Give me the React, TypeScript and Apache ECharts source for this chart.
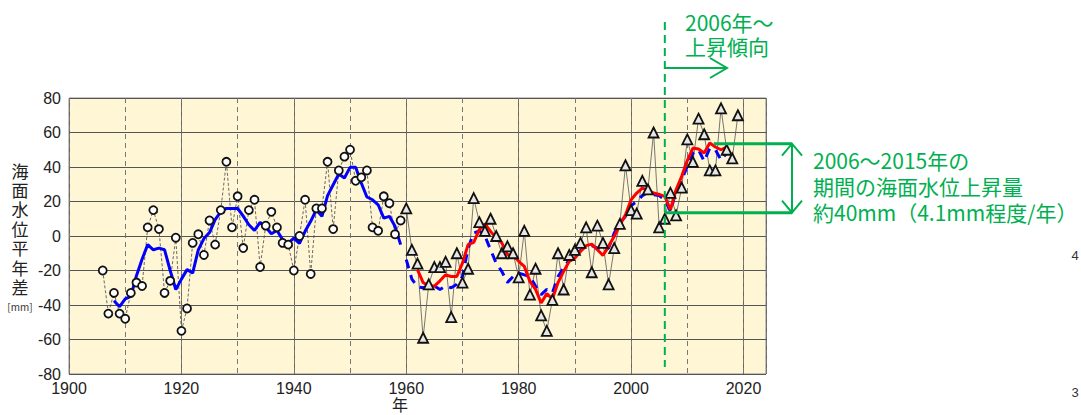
import React, { useEffect, useRef } from "react";
import * as echarts from "echarts";

// ---- data ----
const CIRCLE_START = 1906;
const circleValues = [
  -20, -45, -33, -45, -48, -33, -27, -29, 5, 15, 4, -33, -26, -1, -55, -42, -4, 1, -11, 9,
  -5, 15, 43, 5, 23, -7, 15, 21, -18, 6, 14, 5, -4, -5, -20, 0, 21, -22, 16, 16,
  43, 4, 38, 46, 50, 32, 34, 38, 5, 3, 23, 19, 1, 9,
];
const TRI_START = 1960;
const triangleValues = [
  16, -8, -16, -59, -28, -18, -18, -15, -47, -10, -27, -19, 22, 8, 3, 10, 0, -10, -6, -10,
  -24, 3, -34, -19, -46, -55, -37, -10, -31, -11, -8, -4, 5, -21, 6, -4, -28, -7, 7, 41,
  15, 13, 32, 27, 60, 5, 10, 25, 12, 28, 56, 43, 68, 59, 38, 38, 74, 50, 45, 70,
];
const BLUE_START = 1908;
const blueSolid = [
  -37.5, -41, -36.5, -35, -23, -13.5, -5, -8, -7, -8, -20, -31, -25, -19.5, -21.5, -8, -1.5, 2, 9.5, 14,
  16, 16, 16, 11.5, 6.5, 3.2, 7.9, 5.2, 1.3, 3.2, -2.1, -4.1, -1.2, -4.3, 2.7, 8.5, 15.2, 11.4, 23.4, 29.7,
  35.9, 33.6, 39.8, 39.8, 30.7, 22.6, 21, 18.1, 10.4, 11.4, 5.6, -5,
];
const BLUE_DASH_START = 1960;
const blueDashed = [
  -13.7, -25, -29.5, -30, -29, -29, -31, -29, -30, -28, -23.5, -7, 1.7, 3, 0, -8, -15.7, -20.5, -27, -23.5,
  -21.5, -22.5, -23.5, -29, -34, -31, -33, -23.5, -18.5, -13.7, -11.8, -8.3, -5.6, -5.6, -7, -9, -7, 1.7, 7.5, 11.4,
  17.6, 20, 23.4, 25.3, 24, 23.4, 21, 14.3, 25.7, 32.6, 40.4, 48, 50, 43.3, 51, 50, 44, 48,
];
const RED_START = 1962;
const redValues = [
  -19.5, -27, -29, -29, -26, -22.5, -23.5, -23.5, -15.7, -5, -3.7, 3.7, 7, 2.7, -1.2, -4, -10.8, -11, -14.7, -17.6,
  -26.3, -31, -38.8, -33.4, -36.5, -27, -20.5, -14.7, -12.8, -9, -5.6, -4.7, -8, -11.2, -6, -0.2, 6.5, 12.3, 21, 24.9,
  27.8, 26.6, 24.9, 24.1, 23, 15.2, 26.8, 34.6, 43.7, 51, 50.4, 48.1, 53.9, 51.6, 50, 51.6,
];
const TREND_START = 2006;
const RISE_LOW = 13.5;
const RISE_HIGH = 53.5;
const RISE_HIGH_FROM = 2014.7;
const Y_TITLE = ["海", "面", "水", "位", "平", "年", "差"];

const GREEN = "#00B050";
const JP = "'Noto Sans CJK JP', sans-serif";
const LAT = "'Liberation Sans', Arial, sans-serif";

const toPairs = (start: number, vals: number[]) => vals.map((v, i) => [start + i, v]);

export default function App() {
  const ref = useRef<HTMLDivElement>(null);
  useEffect(() => {
    const chart = echarts.init(ref.current!, undefined, { renderer: "svg" });
    const option: any = {
      animation: false,
      grid: {
        left: 69,
        top: 98,
        width: 697,
        height: 276,
        show: true,
        backgroundColor: "#FFF6D6",
        borderColor: "#8a8a8a",
        borderWidth: 1,
      },
      xAxis: [
        {
          type: "value",
          min: 1900,
          max: 2024,
          interval: 20,
          axisLine: { show: false },
          axisTick: { show: false },
          axisLabel: {
            fontSize: 16,
            fontFamily: LAT,
            color: "#222",
            margin: 6,
            showMaxLabel: false,
            formatter: (v: number) => (v % 20 === 0 ? String(v) : ""),
          },
          splitLine: { show: true, lineStyle: { color: "#666", width: 1 } },
        },
        {
          type: "value",
          min: 1900,
          max: 2024,
          interval: 10,
          position: "bottom",
          axisLine: { show: false },
          axisTick: { show: false },
          axisLabel: { show: false },
          splitLine: { show: true, lineStyle: { color: "#777", width: 1, type: [5, 4] } },
        },
      ],
      yAxis: {
        type: "value",
        min: -80,
        max: 80,
        interval: 20,
        axisLine: { show: false },
        axisTick: { show: false },
        axisLabel: { fontSize: 16, fontFamily: LAT, color: "#222", margin: 8 },
        splitLine: { show: true, lineStyle: { color: "#555", width: 1 } },
      },
      series: [
        {
          type: "line",
          data: toPairs(CIRCLE_START, circleValues),
          symbol: "none",
          lineStyle: { color: "#444", width: 0.8, type: [3, 2] },
          z: 2,
        },
        {
          type: "line",
          data: toPairs(TRI_START, triangleValues),
          symbol: "none",
          lineStyle: { color: "#555", width: 0.8 },
          z: 2,
        },
        {
          type: "line",
          data: toPairs(BLUE_START, blueSolid),
          symbol: "none",
          lineStyle: { color: "#0000FF", width: 3 },
          z: 3,
        },
        {
          type: "line",
          data: toPairs(BLUE_DASH_START, blueDashed),
          symbol: "none",
          lineStyle: { color: "#0000FF", width: 3, type: [9, 7] },
          z: 3,
        },
        {
          type: "line",
          data: toPairs(RED_START, redValues),
          symbol: "none",
          lineStyle: { color: "#FF0000", width: 3 },
          z: 4,
        },
        {
          type: "scatter",
          data: toPairs(CIRCLE_START, circleValues),
          symbol: "circle",
          symbolSize: 8,
          itemStyle: { color: "#fff", borderColor: "#111", borderWidth: 1.8, opacity: 1 },
          z: 5,
        },
        {
          type: "scatter",
          data: toPairs(TRI_START, triangleValues),
          symbol: "triangle",
          symbolSize: 10,
          itemStyle: { color: "#e6e6e6", borderColor: "#111", borderWidth: 1.8, opacity: 1 },
          z: 5,
        },
      ],
    };
    chart.setOption(option);

    const p = (x: number, y: number) =>
      chart.convertToPixel({ xAxisIndex: 0, yAxisIndex: 0 }, [x, y]) as number[];
    const xT = p(TREND_START, 0)[0];
    const yLow = p(TREND_START, RISE_LOW)[1];
    const yHigh = p(TREND_START, RISE_HIGH)[1];
    const xHigh = p(RISE_HIGH_FROM, 0)[0];
    const xBr = 792;
    const ls = { stroke: GREEN, lineWidth: 2 };

    const titleChars = Y_TITLE.map((ch, i) => ({
      type: "text",
      x: 20,
      y: 170 + i * 19.4,
      style: {
        text: ch,
        fontSize: 17,
        lineHeight: 18,
        fontFamily: JP,
        fill: "#222",
        align: "center",
        verticalAlign: "middle",
      },
    }));

    chart.setOption({
      graphic: [
        ...titleChars,
        {
          type: "text",
          x: 20,
          y: 306,
          style: { text: "[mm]", fontSize: 10, lineHeight: 11, fontFamily: JP, fill: "#333", align: "center", verticalAlign: "middle" },
        },
        {
          type: "text",
          x: 400,
          y: 404,
          style: { text: "年", fontSize: 16, lineHeight: 16, fontFamily: JP, fill: "#222", align: "center", verticalAlign: "middle" },
        },
        {
          type: "text",
          x: 1075,
          y: 255,
          style: { text: "4", fontSize: 13, fontFamily: LAT, fill: "#333", align: "center", verticalAlign: "middle" },
        },
        {
          type: "text",
          x: 1075,
          y: 392,
          style: { text: "3", fontSize: 13, fontFamily: LAT, fill: "#333", align: "center", verticalAlign: "middle" },
        },
        // green dashed trend-start line
        {
          type: "line",
          z: 100,
          shape: { x1: xT, y1: 22, x2: xT, y2: 367 },
          style: { stroke: GREEN, lineWidth: 2, lineDash: [8, 5] },
        },
        // arrow to the right
        { type: "line", z: 100, shape: { x1: xT, y1: 68, x2: 727, y2: 68 }, style: ls },
        { type: "polyline", z: 100, shape: { points: [[710, 58], [727, 68], [710, 78]] }, style: { ...ls, fill: "none" } },
        {
          type: "text",
          z: 100,
          x: 685,
          y: 22,
          style: { text: "2006年～", fontSize: 21, fontFamily: JP, fill: GREEN, verticalAlign: "middle" },
        },
        {
          type: "text",
          z: 100,
          x: 685,
          y: 46,
          style: { text: "上昇傾向", fontSize: 21, fontFamily: JP, fill: GREEN, verticalAlign: "middle" },
        },
        // bracket
        { type: "line", z: 100, shape: { x1: xHigh, y1: yHigh, x2: xBr, y2: yHigh }, style: { stroke: GREEN, lineWidth: 3 } },
        { type: "line", z: 100, shape: { x1: xT, y1: yLow, x2: xBr, y2: yLow }, style: { stroke: GREEN, lineWidth: 3 } },
        { type: "line", z: 100, shape: { x1: xBr, y1: yHigh, x2: xBr, y2: yLow }, style: ls },
        {
          type: "polyline",
          z: 100,
          shape: { points: [[xBr - 10, yHigh + 12], [xBr, yHigh], [xBr + 10, yHigh + 12]] },
          style: { ...ls, fill: "none" },
        },
        {
          type: "polyline",
          z: 100,
          shape: { points: [[xBr - 10, yLow - 12], [xBr, yLow], [xBr + 10, yLow - 12]] },
          style: { ...ls, fill: "none" },
        },
        {
          type: "text",
          z: 100,
          x: 813,
          y: 160,
          style: { text: "2006～2015年の", fontSize: 21, fontFamily: JP, fill: GREEN, verticalAlign: "middle" },
        },
        {
          type: "text",
          z: 100,
          x: 813,
          y: 186,
          style: { text: "期間の海面水位上昇量", fontSize: 21, fontFamily: JP, fill: GREEN, verticalAlign: "middle" },
        },
        {
          type: "text",
          z: 100,
          x: 813,
          y: 212,
          style: { text: "約40mm（4.1mm程度/年）", fontSize: 21, fontFamily: JP, fill: GREEN, verticalAlign: "middle" },
        },
      ],
    });
    return () => chart.dispose();
  }, []);
  return (
    <div
      ref={ref}
      style={{ position: "absolute", left: 0, top: 0, width: 1081, height: 415, background: "#fff" }}
    />
  );
}
